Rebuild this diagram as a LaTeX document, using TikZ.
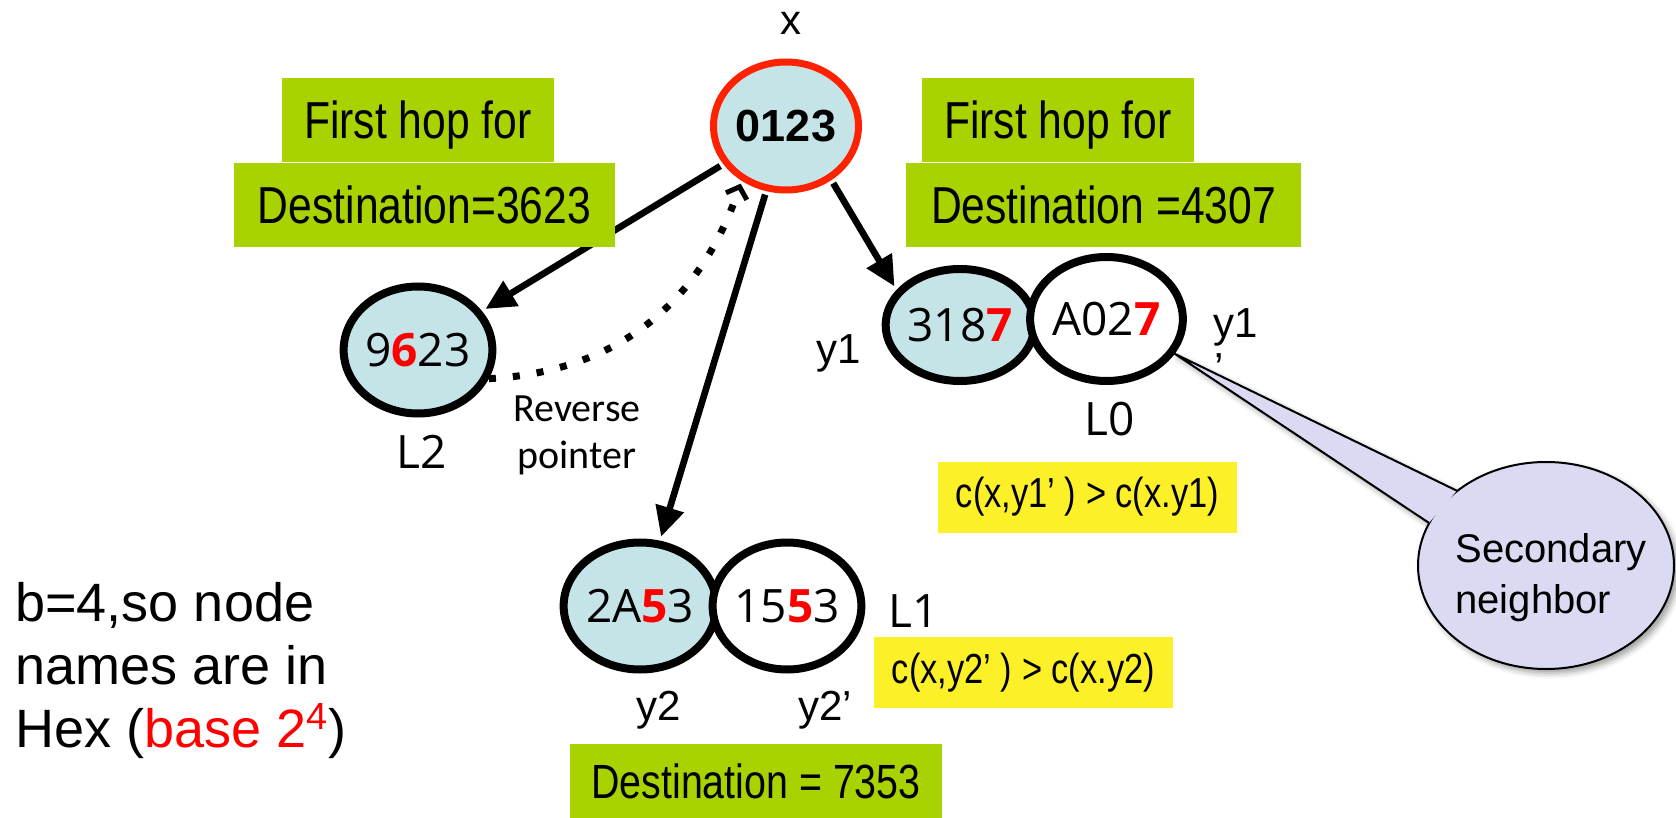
\documentclass[tikz,border=0pt]{standalone}
\usepackage{fontspec}
\setmainfont{Liberation Sans}
\newfontfamily\narrowfont[FakeStretch=0.82]{Liberation Sans}
\newfontfamily\handfont{Open Sans}
\newfontfamily\calfont{Carlito}
\usetikzlibrary{arrows.meta,shapes.geometric,shadows.blur}
\definecolor{peerblue}{RGB}{197,228,232}
\definecolor{selfred}{RGB}{255,34,0}
\definecolor{hopgreen}{RGB}{168,210,0}
\definecolor{costyellow}{RGB}{252,240,40}
\definecolor{notelilac}{RGB}{218,218,242}
\newcommand\hexdigit[1]{\textcolor{red}{\bfseries #1}}

\begin{document}
\begin{tikzpicture}[x=0.5pt,y=-0.5pt,
  peer/.style={ellipse, draw=black, line width=4pt, inner sep=0pt,
    font=\handfont\fontsize{23pt}{27pt}\selectfont},
  hopbox/.style={fill=hopgreen, inner sep=0pt,
    font=\narrowfont\fontsize{26pt}{30pt}\selectfont, text height=18.5pt, text depth=0pt},
  costbox/.style={fill=costyellow, inner sep=0pt, minimum width=149.5pt, minimum height=35.5pt,
    font=\narrowfont\fontsize{21pt}{25pt}\selectfont},
  link/.style={line width=3.3pt, shorten <=1.8pt, shorten >=2pt,
    -{Triangle[length=15pt,width=14pt]}},
  revptr/.style={line width=3.5pt, dash pattern=on 3.5pt off 8.5pt, shorten >=1.5pt,
    -{Straight Barb[length=5pt,width=11pt,line width=2.5pt]}},
  tag/.style={inner sep=0pt, font=\fontsize{21pt}{25pt}\selectfont},
  level/.style={inner sep=0pt, font=\handfont\fontsize{23pt}{27pt}\selectfont},
  noteshadow/.style={blur shadow={shadow xshift=2pt, shadow yshift=-2pt, shadow blur radius=3pt}}]
\useasboundingbox (0,0) rectangle (1676,818);

% peers of the routing table
\node[peer, draw=selfred, line width=3.5pt, fill=peerblue, minimum width=72.5pt, minimum height=64pt,
  font=\bfseries\fontsize{22.5pt}{26pt}\selectfont] (n0123) at (786,126) {0123};
\node[peer, fill=peerblue, minimum width=71pt, minimum height=63.5pt] (n9623) at (418,350) {9\hexdigit{6}23};
\node[peer, fill=peerblue, minimum width=69pt, minimum height=56pt] (n3187) at (960,325) {318\hexdigit{7}};
\node[peer, fill=white, minimum width=69.5pt, minimum height=62pt] (na027) at (1106.5,319) {A02\hexdigit{7}};
\node[peer, fill=peerblue, minimum width=69pt, minimum height=63.5pt] (n2a53) at (640,606) {2A\hexdigit{5}3};
\node[peer, fill=white, minimum width=70pt, minimum height=63.5pt] (n1553) at (787,606) {15\hexdigit{5}3};

% first hops and the reverse pointer
\draw[link] (n0123) -- (n9623);
\draw[link] (n0123) -- (n2a53);
\draw[link] (n0123.-50) -- (n3187.151);
\draw[revptr] (n9623.-22) .. controls (616,372) and (700,304) .. (n0123.231);

% destination boxes
\node[hopbox, minimum width=136pt, minimum height=42pt] (hopa) at (418,120) {First hop for};
\node[hopbox, minimum width=190.5pt, minimum height=42pt] (hopb) at (424.5,205) {Destination=3623};
\node[hopbox, minimum width=136pt, minimum height=42pt] (hopc) at (1058,120) {First hop for};
\node[hopbox, minimum width=197.5pt, minimum height=42pt] (hopd) at (1103.5,205) {Destination =4307};
\node[hopbox, minimum width=186pt, minimum height=37pt,
  font=\narrowfont\fontsize{24pt}{28pt}\selectfont, text height=17pt] (hope) at (756,781) {Destination = 7353};

% cost comparisons
\node[costbox] (costa) at (1087.5,497) {c(x,y1’ ) > c(x.y1)};
\node[costbox] (costb) at (1023.5,672.5) {c(x,y2’ ) > c(x.y2)};

% peer names and levels
\node[tag] (labx) at (791,23) {x};
\node[tag, anchor=base] (laby1) at (839,364) {y1};
\node[tag, anchor=base west] (laby1p) at (1213,337) {y1};
\node[tag, anchor=base west] (laby1q) at (1214,382) {’};
\node[tag, anchor=base] (laby2) at (659,720) {y2};
\node[tag, anchor=base west] (laby2p) at (798,720) {y2’};
\node[level] (lvl2) at (422,452) {L2};
\node[level] (lvl0) at (1110,419) {L0};
\node[level] (lvl1) at (914,611) {L1};

\node[inner sep=0pt, anchor=north, align=center,
  font=\calfont\fontsize{20pt}{23.5pt}\selectfont] (revlbl) at (577,395) {Reverse\\pointer};

\node[inner sep=0pt, anchor=north west, align=left,
  font=\fontsize{27pt}{31.5pt}\selectfont] (hexnote) at (15,582)
  {b=4,so node\\names are in\\Hex ({\color{red}base 2\textsuperscript{4}})};

% speech bubble for the secondary neighbour: ellipse plus a wedge to A027
\coordinate (tip) at (na027.-27);
\node[ellipse, inner sep=0pt, minimum width=128pt, minimum height=103.5pt] (note) at (1546,565.5) {};
\fill[notelilac, noteshadow] (tip) -- (note.140) -- (note.160) -- cycle;
\draw[line width=1pt, fill=notelilac, noteshadow] (note.center) ellipse [x radius=128, y radius=103.5];
\fill[notelilac] (tip) -- (note.140) -- (note.160) -- cycle;
\draw[line width=1pt, line join=round] (note.140) -- (tip) -- (note.160);
\node[inner sep=0pt, anchor=north west, align=left,
  font=\fontsize{20pt}{25.5pt}\selectfont] (notetext) at (1455,533) {Secondary\\neighbor};
\end{tikzpicture}
\end{document}
